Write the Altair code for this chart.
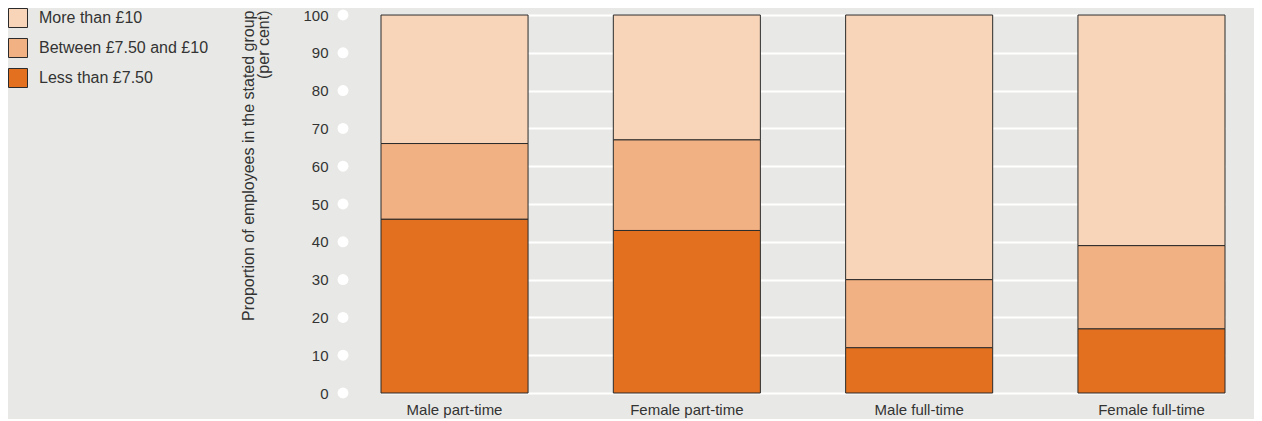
import altair as alt
import pandas as pd

groups = ["Male part-time", "Female part-time", "Male full-time", "Female full-time"]
bands = ["More than £10", "Between £7.50 and £10", "Less than £7.50"]
less_than_750 = [46, 43, 12, 17]
between_750_10 = [20, 24, 18, 22]
more_than_10 = [34, 33, 70, 61]
y_ticks = [0, 10, 20, 30, 40, 50, 60, 70, 80, 90, 100]

colors = ["#F8D5B9", "#F2B182", "#E2701E"]
FONT = "Liberation Sans"
TEXT = "#333333"
BG = "#E8E9E6"

rows = []
for i, g in enumerate(groups):
    rows.append({"group": g, "band": bands[2], "value": less_than_750[i], "rank": 0})
    rows.append({"group": g, "band": bands[1], "value": between_750_10[i], "rank": 1})
    rows.append({"group": g, "band": bands[0], "value": more_than_10[i], "rank": 2})
df = pd.DataFrame(rows)
ticks_df = pd.DataFrame({"value": y_ticks})

yscale = alt.Scale(domain=[0, 100], nice=False, zero=True)


def y_axis():
    return alt.Axis(
        title=["Proportion of employees in the stated group", "(per cent)"],
        values=y_ticks,
        domain=False,
        ticks=False,
        labelPadding=15,
        grid=True,
        gridColor="white",
        gridWidth=2,
        titlePadding=31,
        titleLineHeight=15,
        titleFontSize=16,
        titleAnchor="end",
        titleY=-5,
    )


dots = alt.Chart(ticks_df).mark_circle(color="white", opacity=1, size=120).encode(
    x=alt.value(0),
    y=alt.Y("value:Q", scale=yscale, axis=y_axis()),
)

bars = alt.Chart(df).mark_bar(stroke="#2b2b2b", strokeWidth=1).encode(
    x=alt.X(
        "group:N",
        sort=groups,
        scale=alt.Scale(range=[38, 882], paddingInner=0.367, paddingOuter=0),
        axis=alt.Axis(title=None, labelAngle=0, domain=False, ticks=False,
                      labelPadding=9, grid=False),
    ),
    y=alt.Y("value:Q", stack="zero", scale=yscale, axis=y_axis()),
    color=alt.Color(
        "band:N",
        scale=alt.Scale(domain=bands, range=colors),
        legend=alt.Legend(
            title=None,
            orient="none",
            legendX=-335,
            legendY=-7,
            symbolType="square",
            symbolSize=361,
            symbolStrokeColor="#2b2b2b",
            symbolStrokeWidth=1,
            symbolOpacity=1,
            labelFontSize=16,
            labelFont=FONT,
            labelColor=TEXT,
            labelOffset=11,
            labelLimit=400,
            rowPadding=6,
            padding=0,
        ),
    ),
    order=alt.Order("rank:Q", sort="ascending"),
)

chart = alt.layer(dots, bars).properties(
    width=911,
    height=378,
    autosize=alt.AutoSizeParams(type="none"),
    padding={"left": 335, "top": 7, "right": 0, "bottom": 26},
    background=BG,
).configure_view(stroke=None).configure_axis(
    labelFont=FONT,
    labelFontSize=15,
    labelColor=TEXT,
    titleFont=FONT,
    titleFontSize=15,
    titleFontWeight="normal",
    titleColor=TEXT,
)

chart.save("out.html", embed_options={"renderer": "svg", "actions": False})
